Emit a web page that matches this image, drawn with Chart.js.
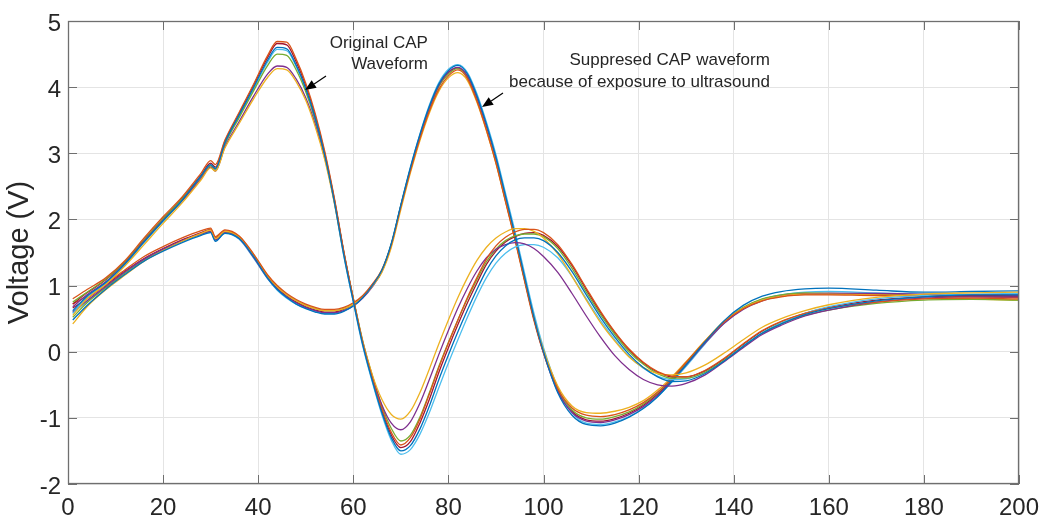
<!DOCTYPE html>
<html>
<head>
<meta charset="utf-8">
<title>CAP waveforms</title>
<script src="https://cdn.jsdelivr.net/npm/chart.js@4.4.1/dist/chart.umd.min.js"></script>
<style>
  html, body { margin: 0; padding: 0; background: #ffffff; }
  #wrap { width: 1043px; height: 519px; }
</style>
</head>
<body>
<div id="wrap"><canvas id="cap" width="1043" height="519"></canvas></div>
<script>
// Sample times shared by every trace
const sampleTimes = [1,4,8,12,16,20,24,28,30,31,33,36,39,42,44,46,48,50,52,54,56,58,60,62,64,66,68,70,72,74,76,78,80,82,84,86,88,90,92,94,96,98,100,103,106,109,112,115,118,121,124,127,130,134,138,142,146,150,155,160,170,180,190,200];

const xTickValues = [0,20,40,60,80,100,120,140,160,180,200];
const yTickValues = [-2,-1,0,1,2,3,4,5];

// Original CAP recordings (voltage, V)
const original1 = [0.62,0.84,1.05,1.33,1.66,1.98,2.29,2.66,2.83,2.77,3.16,3.58,3.99,4.41,4.60,4.58,4.33,3.98,3.53,2.97,2.27,1.46,0.76,0.10,-0.44,-0.92,-1.30,-1.50,-1.42,-1.17,-0.82,-0.42,-0.05,0.30,0.63,0.94,1.23,1.45,1.60,1.69,1.72,1.72,1.68,1.50,1.21,0.86,0.52,0.22,-0.04,-0.24,-0.38,-0.45,-0.44,-0.33,-0.14,0.08,0.28,0.42,0.56,0.65,0.77,0.83,0.86,0.86];
const original2 = [0.80,0.94,1.12,1.38,1.72,2.04,2.34,2.70,2.89,2.83,3.20,3.62,4.04,4.48,4.69,4.68,4.42,4.06,3.60,3.03,2.33,1.52,0.80,0.13,-0.40,-0.86,-1.22,-1.41,-1.30,-1.02,-0.64,-0.24,0.13,0.48,0.82,1.12,1.40,1.60,1.73,1.81,1.85,1.85,1.80,1.62,1.32,0.96,0.61,0.30,0.04,-0.16,-0.30,-0.37,-0.38,-0.28,-0.10,0.12,0.32,0.46,0.58,0.66,0.75,0.80,0.81,0.80];
const original3 = [0.55,0.80,1.02,1.30,1.62,1.94,2.25,2.60,2.78,2.73,3.08,3.45,3.82,4.15,4.28,4.26,4.08,3.80,3.40,2.90,2.25,1.48,0.80,0.15,-0.35,-0.72,-0.95,-1.02,-0.90,-0.62,-0.26,0.12,0.48,0.82,1.12,1.38,1.58,1.72,1.81,1.86,1.86,1.82,1.72,1.48,1.14,0.78,0.44,0.16,-0.08,-0.24,-0.33,-0.35,-0.32,-0.20,-0.02,0.18,0.37,0.50,0.62,0.71,0.82,0.87,0.89,0.90];
const original4 = [0.68,0.86,1.06,1.34,1.67,1.99,2.28,2.62,2.79,2.73,3.10,3.48,3.86,4.20,4.32,4.30,4.12,3.84,3.44,2.93,2.28,1.50,0.80,0.14,-0.38,-0.80,-1.08,-1.18,-1.06,-0.78,-0.42,-0.04,0.32,0.66,0.96,1.22,1.42,1.55,1.62,1.65,1.63,1.56,1.44,1.20,0.88,0.54,0.22,-0.06,-0.27,-0.42,-0.50,-0.52,-0.48,-0.35,-0.15,0.06,0.26,0.40,0.54,0.63,0.75,0.81,0.83,0.83];
const original5 = [0.75,0.90,1.10,1.36,1.69,2.01,2.31,2.65,2.81,2.76,3.14,3.54,3.94,4.33,4.50,4.48,4.26,3.93,3.50,2.97,2.30,1.51,0.81,0.16,-0.36,-0.82,-1.16,-1.35,-1.26,-0.99,-0.62,-0.22,0.14,0.48,0.80,1.09,1.36,1.55,1.68,1.75,1.78,1.78,1.74,1.56,1.26,0.90,0.56,0.26,0.00,-0.19,-0.33,-0.40,-0.40,-0.31,-0.13,0.08,0.28,0.42,0.55,0.63,0.73,0.78,0.79,0.78];
const original6 = [0.58,0.82,1.04,1.32,1.65,1.97,2.28,2.64,2.82,2.75,3.14,3.56,3.97,4.38,4.57,4.55,4.31,3.97,3.52,2.96,2.26,1.45,0.75,0.08,-0.46,-0.95,-1.34,-1.55,-1.48,-1.25,-0.92,-0.54,-0.17,0.18,0.52,0.84,1.12,1.34,1.49,1.58,1.62,1.62,1.58,1.42,1.14,0.80,0.47,0.18,-0.07,-0.25,-0.37,-0.42,-0.41,-0.31,-0.13,0.09,0.29,0.44,0.58,0.68,0.80,0.85,0.87,0.88];
const original7 = [0.72,0.89,1.09,1.36,1.69,2.01,2.32,2.67,2.85,2.79,3.18,3.60,4.02,4.45,4.66,4.64,4.38,4.02,3.56,3.00,2.31,1.50,0.79,0.12,-0.42,-0.89,-1.26,-1.45,-1.36,-1.08,-0.72,-0.31,0.06,0.41,0.74,1.04,1.32,1.52,1.66,1.74,1.79,1.80,1.76,1.59,1.30,0.94,0.59,0.29,0.03,-0.17,-0.31,-0.38,-0.38,-0.29,-0.11,0.11,0.31,0.45,0.58,0.67,0.78,0.83,0.85,0.84];

// CAP recordings during ultrasound exposure (voltage, V)
const suppressed1 = [0.48,0.70,0.95,1.17,1.37,1.52,1.65,1.76,1.80,1.67,1.79,1.71,1.44,1.11,0.94,0.82,0.72,0.65,0.60,0.57,0.57,0.61,0.69,0.82,1.00,1.23,1.64,2.22,2.78,3.28,3.71,4.05,4.25,4.33,4.20,3.87,3.44,2.94,2.36,1.77,1.14,0.52,0.00,-0.62,-0.96,-1.10,-1.12,-1.08,-0.99,-0.86,-0.68,-0.45,-0.20,0.15,0.47,0.70,0.84,0.91,0.95,0.96,0.93,0.90,0.91,0.92];
const suppressed2 = [0.72,0.84,1.03,1.24,1.44,1.59,1.72,1.83,1.87,1.74,1.84,1.75,1.48,1.16,1.00,0.88,0.79,0.72,0.67,0.64,0.64,0.67,0.74,0.85,1.02,1.24,1.62,2.19,2.73,3.22,3.64,3.97,4.17,4.26,4.13,3.79,3.35,2.85,2.27,1.69,1.07,0.47,-0.02,-0.56,-0.85,-0.96,-0.98,-0.95,-0.88,-0.77,-0.61,-0.40,-0.16,0.16,0.45,0.65,0.77,0.83,0.86,0.86,0.85,0.85,0.83,0.82];
const suppressed3 = [0.42,0.68,0.94,1.16,1.37,1.53,1.67,1.79,1.84,1.71,1.82,1.74,1.47,1.15,0.98,0.86,0.77,0.70,0.65,0.62,0.62,0.65,0.72,0.83,0.99,1.20,1.58,2.15,2.70,3.19,3.61,3.94,4.14,4.22,4.10,3.77,3.34,2.85,2.28,1.71,1.10,0.51,0.03,-0.52,-0.82,-0.92,-0.93,-0.90,-0.84,-0.74,-0.58,-0.38,-0.15,0.17,0.46,0.66,0.78,0.84,0.87,0.87,0.86,0.84,0.80,0.78];
const suppressed4 = [0.60,0.77,0.99,1.21,1.40,1.55,1.68,1.78,1.82,1.69,1.80,1.71,1.43,1.11,0.95,0.83,0.74,0.67,0.62,0.59,0.59,0.62,0.69,0.81,0.98,1.21,1.61,2.20,2.76,3.26,3.69,4.03,4.23,4.30,4.17,3.84,3.40,2.90,2.32,1.74,1.11,0.50,-0.02,-0.60,-0.92,-1.05,-1.07,-1.03,-0.95,-0.83,-0.66,-0.44,-0.20,0.13,0.43,0.64,0.77,0.84,0.87,0.88,0.88,0.87,0.86,0.86];
const suppressed5 = [0.52,0.74,0.97,1.19,1.39,1.54,1.67,1.78,1.82,1.70,1.81,1.73,1.46,1.14,0.98,0.86,0.77,0.70,0.65,0.62,0.62,0.65,0.72,0.84,1.01,1.23,1.63,2.21,2.76,3.25,3.68,4.01,4.20,4.28,4.15,3.81,3.37,2.87,2.29,1.71,1.09,0.49,0.00,-0.56,-0.88,-1.00,-1.02,-0.98,-0.91,-0.79,-0.62,-0.41,-0.17,0.16,0.46,0.67,0.80,0.86,0.89,0.88,0.87,0.85,0.84,0.83];
const suppressed6 = [0.58,0.76,0.98,1.20,1.39,1.54,1.67,1.77,1.81,1.68,1.79,1.70,1.42,1.10,0.93,0.81,0.72,0.66,0.61,0.58,0.58,0.62,0.70,0.82,1.00,1.22,1.63,2.22,2.79,3.29,3.73,4.07,4.27,4.34,4.22,3.90,3.47,2.98,2.40,1.82,1.19,0.58,0.06,-0.54,-0.92,-1.08,-1.10,-1.06,-0.98,-0.85,-0.68,-0.46,-0.22,0.12,0.43,0.65,0.79,0.86,0.90,0.91,0.89,0.87,0.86,0.86];
const suppressed7 = [0.66,0.80,1.01,1.22,1.41,1.56,1.69,1.80,1.85,1.72,1.82,1.73,1.45,1.13,0.96,0.84,0.75,0.68,0.63,0.60,0.60,0.64,0.71,0.83,1.00,1.22,1.62,2.20,2.75,3.25,3.68,4.02,4.22,4.29,4.16,3.82,3.38,2.88,2.30,1.72,1.10,0.50,0.00,-0.58,-0.90,-1.03,-1.05,-1.01,-0.93,-0.81,-0.64,-0.42,-0.18,0.15,0.45,0.66,0.79,0.85,0.88,0.88,0.87,0.86,0.85,0.85];

// Trace colour cycle
const traceColors = ['#0072BD','#D95319','#EDB120','#7E2F8E','#77AC30','#4DBEEE','#A2142F'];

const originalTraces = [original1, original2, original3, original4, original5, original6, original7];
const suppressedTraces = [suppressed1, suppressed2, suppressed3, suppressed4, suppressed5, suppressed6, suppressed7];

function toPoints(values) {
  return sampleTimes.map((t, i) => ({ x: t, y: values[i] }));
}

const datasets = [];
originalTraces.forEach((v, i) => datasets.push({
  label: 'Original ' + (i + 1), data: toPoints(v),
  borderColor: traceColors[i % traceColors.length]
}));
suppressedTraces.forEach((v, i) => datasets.push({
  label: 'Suppressed ' + (i + 1), data: toPoints(v),
  borderColor: traceColors[i % traceColors.length]
}));

// Text notes with pointing arrows, placed in data coordinates
const noteFont = '17px "Liberation Sans", Arial, Helvetica, sans-serif';
const notes = [
  { lines: ['Original CAP', 'Waveform'], x: 75.7, y: [4.667, 4.350] },
  { lines: ['Suppresed CAP waveform', 'because of exposure to ultrasound'], x: 147.6, y: [4.410, 4.078] }
];
const arrows = [
  { from: [54.26, 4.168], to: [49.84, 3.957] },
  { from: [91.48, 3.911], to: [87.07, 3.700] }
];

const axisColor = '#6f6f6f';
const textColor = '#262626';
const tickFont = { family: '"Liberation Sans", Arial, Helvetica, sans-serif', size: 24 };

// Box around the plot with inward tick marks on all four sides
const boxAndTicks = {
  id: 'boxAndTicks',
  afterDatasetsDraw(chart) {
    const { ctx, chartArea: a, scales: { x, y } } = chart;
    const len = 9;
    ctx.save();
    ctx.strokeStyle = axisColor;
    ctx.lineWidth = 1;
    ctx.beginPath();
    xTickValues.forEach(v => {
      const px = Math.round(x.getPixelForValue(v)) + 0.5;
      ctx.moveTo(px, a.bottom); ctx.lineTo(px, a.bottom - len);
      ctx.moveTo(px, a.top); ctx.lineTo(px, a.top + len);
    });
    yTickValues.forEach(v => {
      const py = Math.round(y.getPixelForValue(v)) + 0.5;
      ctx.moveTo(a.left, py); ctx.lineTo(a.left + len, py);
      ctx.moveTo(a.right, py); ctx.lineTo(a.right - len, py);
    });
    ctx.stroke();
    ctx.lineWidth = 1.3;
    ctx.strokeRect(Math.round(a.left) + 0.5, Math.round(a.top) + 0.5,
                   Math.round(a.right - a.left) - 1, Math.round(a.bottom - a.top) - 1);
    ctx.restore();
  }
};

const notesPlugin = {
  id: 'notes',
  afterDatasetsDraw(chart) {
    const { ctx, scales: { x, y } } = chart;
    ctx.save();
    ctx.font = noteFont;
    ctx.fillStyle = textColor;
    ctx.textAlign = 'right';
    ctx.textBaseline = 'middle';
    notes.forEach(n => {
      n.lines.forEach((line, i) => {
        ctx.fillText(line, x.getPixelForValue(n.x), y.getPixelForValue(n.y[i]));
      });
    });
    ctx.strokeStyle = '#000000';
    ctx.fillStyle = '#000000';
    ctx.lineWidth = 1.2;
    arrows.forEach(ar => {
      const x0 = x.getPixelForValue(ar.from[0]), y0 = y.getPixelForValue(ar.from[1]);
      const x1 = x.getPixelForValue(ar.to[0]), y1 = y.getPixelForValue(ar.to[1]);
      const ang = Math.atan2(y1 - y0, x1 - x0);
      const head = 11, half = 4.5;
      const bx = x1 - head * Math.cos(ang), by = y1 - head * Math.sin(ang);
      ctx.beginPath();
      ctx.moveTo(x0, y0); ctx.lineTo(bx, by);
      ctx.stroke();
      ctx.beginPath();
      ctx.moveTo(x1, y1);
      ctx.lineTo(bx + half * Math.sin(ang), by - half * Math.cos(ang));
      ctx.lineTo(bx - half * Math.sin(ang), by + half * Math.cos(ang));
      ctx.closePath();
      ctx.fill();
    });
    ctx.restore();
  }
};

new Chart(document.getElementById('cap'), {
  type: 'line',
  data: { datasets },
  options: {
    responsive: false,
    animation: false,
    devicePixelRatio: 1,
    layout: { padding: { top: 21, right: 24, left: 0, bottom: 0 } },
    elements: {
      point: { radius: 0, hoverRadius: 0 },
      line: { borderWidth: 1.3, cubicInterpolationMode: 'monotone', fill: false }
    },
    plugins: { legend: { display: false }, tooltip: { enabled: false } },
    scales: {
      x: {
        type: 'linear', min: 0, max: 200,
        afterBuildTicks(s) { s.ticks = xTickValues.map(v => ({ value: v })); },
        afterFit(s) { s.height = 35; s.paddingLeft = 0; s.paddingRight = 0; },
        ticks: { color: textColor, font: tickFont, padding: 10, maxRotation: 0 },
        grid: { color: '#e4e4e4', drawTicks: false },
        border: { display: false }
      },
      y: {
        type: 'linear', min: -2, max: 5,
        afterBuildTicks(s) { s.ticks = yTickValues.map(v => ({ value: v })); },
        afterFit(s) { s.width = 68; s.paddingTop = 0; s.paddingBottom = 0; },
        ticks: { color: textColor, font: tickFont, padding: 7, labelOffset: 3 },
        grid: { color: '#e4e4e4', drawTicks: false },
        border: { display: false },
        title: {
          display: true, text: 'Voltage (V)', color: textColor,
          font: { family: '"Liberation Sans", Arial, Helvetica, sans-serif', size: 29 },
          padding: { top: 3, bottom: 0 }
        }
      }
    }
  },
  plugins: [boxAndTicks, notesPlugin]
});
</script>
</body>
</html>
